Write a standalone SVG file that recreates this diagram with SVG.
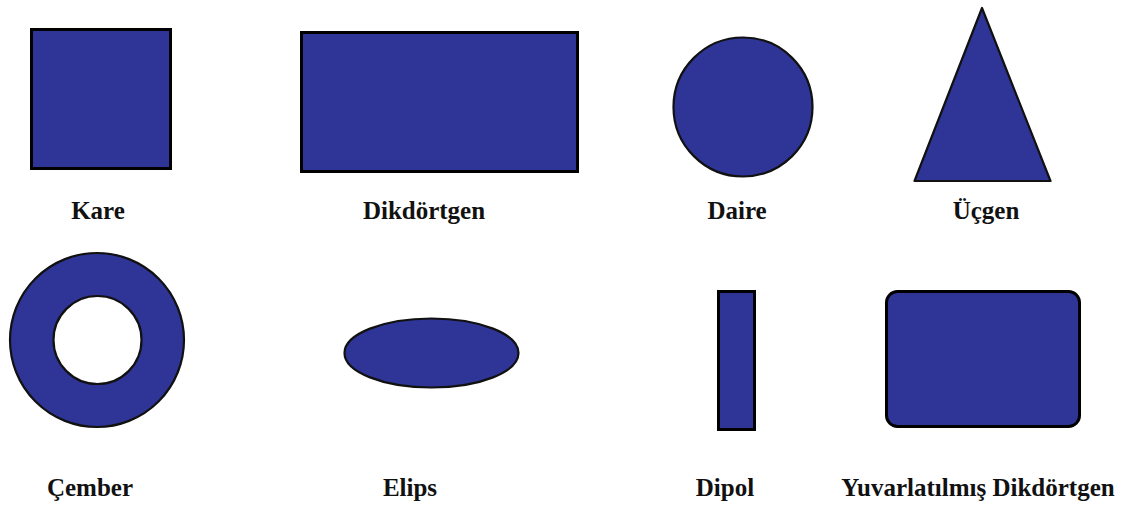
<svg xmlns="http://www.w3.org/2000/svg" width="1125" height="505" viewBox="0 0 1125 505">
<style>
.s{fill:#2e3596;stroke:#000;stroke-width:3}
.c{fill:#2e3596;stroke:#111;stroke-width:2.2}
.t{font-family:"Liberation Serif","Times New Roman",serif;font-weight:bold;font-size:25px;fill:#111;text-anchor:middle}
</style>
<rect width="1125" height="505" fill="#fff"/>
<g id="kare"><rect class="s" x="31.5" y="29.5" width="139" height="139"/><text class="t" x="98" y="219">Kare</text></g>
<g id="dikdortgen"><rect class="s" x="301.5" y="32.5" width="276" height="139"/><text class="t" x="424" y="219">Dikdörtgen</text></g>
<g id="daire"><circle class="c" cx="743" cy="107" r="69.5"/><text class="t" x="737" y="219">Daire</text></g>
<g id="ucgen"><polygon class="c" points="982,8 1050.5,181 914.5,181" stroke-linejoin="round"/><text class="t" x="986" y="219">Üçgen</text></g>
<g id="cember"><path fill="#2e3596" fill-rule="evenodd" d="M10,340a87,87 0 1,0 174,0a87,87 0 1,0 -174,0ZM53.5,340a44,44 0 1,0 88,0a44,44 0 1,0 -88,0Z"/><circle cx="97" cy="340" r="87" fill="none" stroke="#111" stroke-width="2.2"/><circle cx="97.5" cy="340" r="44" fill="none" stroke="#111" stroke-width="2.2"/><text class="t" x="90" y="496">Çember</text></g>
<g id="elips"><ellipse class="c" cx="431.5" cy="353" rx="87" ry="34.5"/><text class="t" x="410" y="496">Elips</text></g>
<g id="dipol"><rect class="s" x="718.5" y="291.5" width="36" height="138"/><text class="t" x="725" y="496">Dipol</text></g>
<g id="yuvarlatilmis"><rect class="s" x="886.5" y="291.5" width="193" height="135" rx="11"/><text class="t" x="978" y="496">Yuvarlatılmış Dikdörtgen</text></g>
<g id="connectors"/>
</svg>
